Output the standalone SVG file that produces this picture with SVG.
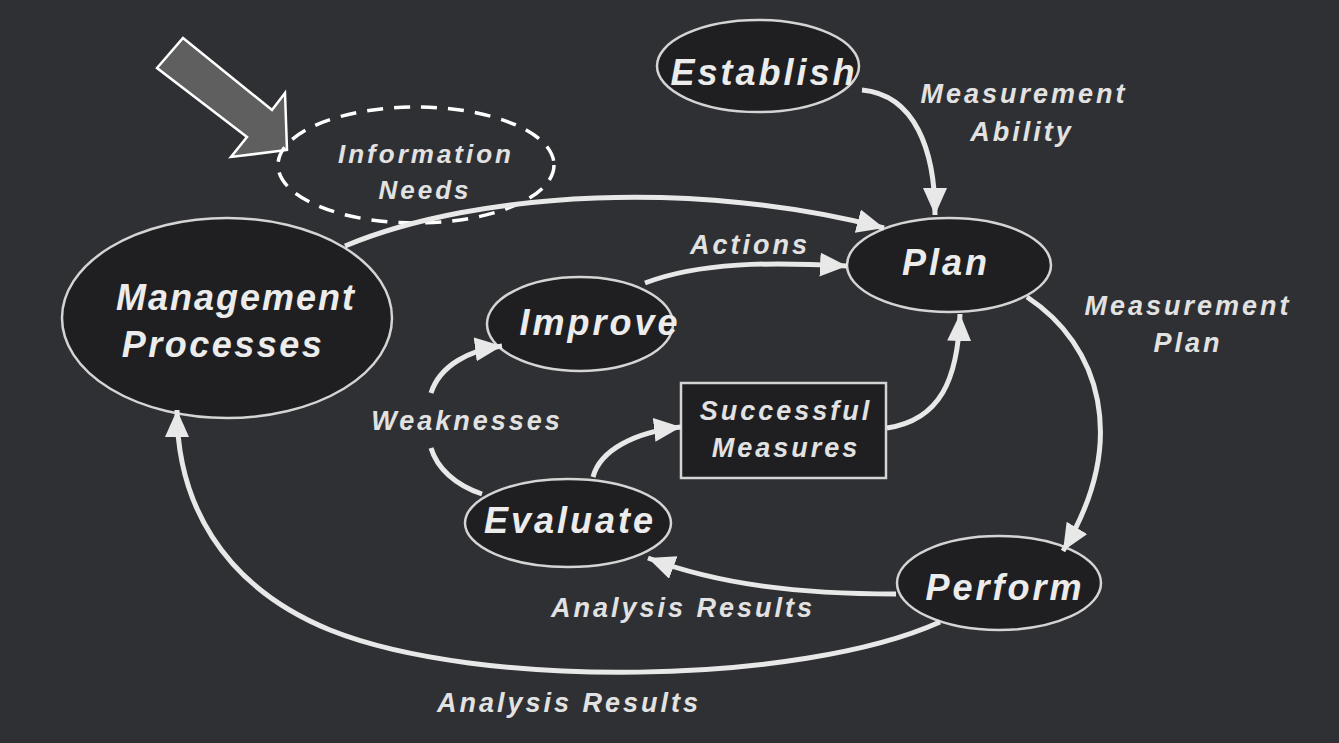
<svg xmlns="http://www.w3.org/2000/svg" width="1339" height="743" viewBox="0 0 1339 743">
<defs>
<style>
.node{fill:#1f1f22;stroke:#d4d4d4;stroke-width:2.5}
.nl{font-family:"Liberation Sans",Arial,sans-serif;font-style:italic;font-weight:bold;font-size:36px;fill:#ececec;text-anchor:middle;letter-spacing:3px}
.el{font-family:"Liberation Sans",Arial,sans-serif;font-style:italic;font-weight:bold;font-size:27px;fill:#e2e2e2;text-anchor:middle;letter-spacing:3px}
.con{fill:none;stroke:#e8e8e8;stroke-width:5;stroke-linecap:butt}
.arr{marker-end:url(#ah)}
</style>
<marker id="ah" markerUnits="userSpaceOnUse" markerWidth="30" markerHeight="26" refX="27" refY="12" orient="auto">
<path d="M0,0 L27,12 L0,24 z" fill="#e8e8e8"/>
</marker>
</defs>
<rect x="0" y="0" width="1339" height="743" fill="#2f3033"/>

<g id="pointer">
<polygon points="157,68 183,38 272,110 285,93 287,150 231,157 247,137" fill="#5f5f5f" stroke="#ffffff" stroke-width="2.5" stroke-linejoin="miter"/>
</g>

<g id="node-info-needs">
<ellipse cx="416" cy="165" rx="138" ry="58" fill="none" stroke="#ffffff" stroke-width="3.5" stroke-dasharray="16 11"/>
<text class="el" x="426" y="163" style="font-size:26px">Information</text>
<text class="el" x="425" y="199" style="font-size:26px">Needs</text>
</g>

<g id="node-establish">
<ellipse class="node" cx="758" cy="66" rx="101" ry="46"/>
<text class="nl" x="764" y="85">Establish</text>
</g>

<g id="node-plan">
<ellipse class="node" cx="949" cy="265" rx="102" ry="47"/>
<text class="nl" x="946" y="275">Plan</text>
</g>

<g id="node-management">
<ellipse class="node" cx="227" cy="318" rx="165" ry="100"/>
<text class="nl" x="236" y="310" style="letter-spacing:2px">Management</text>
<text class="nl" x="223" y="357" style="letter-spacing:2.5px">Processes</text>
</g>

<g id="node-improve">
<ellipse class="node" cx="580" cy="324" rx="93" ry="47"/>
<text class="nl" x="600" y="335">Improve</text>
</g>

<g id="node-successful">
<rect class="node" x="681" y="383" width="205" height="95"/>
<text class="el" x="786" y="420">Successful</text>
<text class="el" x="786" y="457">Measures</text>
</g>

<g id="node-evaluate">
<ellipse class="node" cx="568" cy="523" rx="103" ry="44"/>
<text class="nl" x="570" y="533">Evaluate</text>
</g>

<g id="node-perform">
<ellipse class="node" cx="999" cy="583" rx="102" ry="47"/>
<text class="nl" x="1005" y="600">Perform</text>
</g>

<g id="connectors">
<path class="con arr" d="M345,246 C480,190 700,180 884,228"/>
<path class="con arr" d="M862,90 C915,95 935,150 935,215"/>
<path class="con arr" d="M645,283 C700,262 770,262 847,266"/>
<path class="con arr" d="M887,428 C940,420 958,380 960,314"/>
<path class="con arr" d="M593,477 C600,450 635,432 681,427"/>
<path class="con" d="M482,494 C455,485 437,468 431,448"/>
<path class="con arr" d="M431,393 C440,365 470,350 502,346"/>
<path class="con arr" d="M896,594 C800,594 720,585 648,558"/>
<path class="con arr" d="M1027,297 C1100,345 1130,440 1063,551"/>
<path class="con arr" d="M940,622 C800,685 480,690 330,630 C220,585 177,500 177,410"/>
</g>

<g id="edge-labels">
<text class="el" x="1024" y="103">Measurement</text>
<text class="el" x="1022" y="141">Ability</text>
<text class="el" x="750" y="254">Actions</text>
<text class="el" x="1188" y="315">Measurement</text>
<text class="el" x="1188" y="352">Plan</text>
<text class="el" x="467" y="430">Weaknesses</text>
<text class="el" x="683" y="617">Analysis Results</text>
<text class="el" x="569" y="712">Analysis Results</text>
</g>
</svg>
